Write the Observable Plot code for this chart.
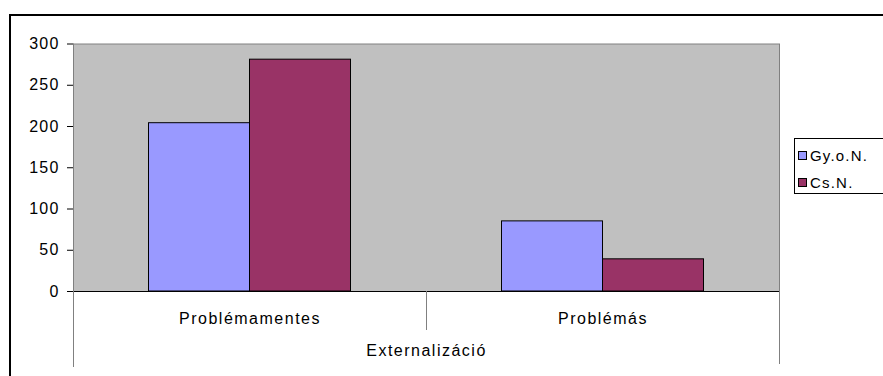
<!DOCTYPE html>
<html>
<head>
<meta charset="utf-8">
<script src="https://cdn.jsdelivr.net/npm/d3@7"></script>
<script src="https://cdn.jsdelivr.net/npm/@observablehq/plot@0.6"></script>
<style>
  html, body { margin: 0; padding: 0; background: #fff; }
  body { width: 883px; height: 376px; overflow: hidden; position: relative; font-family: "Liberation Sans", Arial, sans-serif; }
  #border { position: absolute; left: 9px; top: 14px; width: 1000px; height: 600px; border-top: 2px solid #000; border-left: 2px solid #000; }
  #chart { position: absolute; left: 0; top: 0; }
  #chart svg [aria-label="fx-axis tick label"] text { letter-spacing: 1.5px; }
  #chart svg [aria-label="fx-axis label"] text { letter-spacing: 1.5px; }
  #chart svg [aria-label="y-axis tick label"] text { letter-spacing: 1.2px; }
  #legend { position: absolute; left: 794px; top: 138px; width: 120px; height: 54px; border: 1px solid #000; background: #fff; }
  .item { position: absolute; left: 3px; font-size: 15px; letter-spacing: 1.2px; line-height: 15px; color: #000; white-space: nowrap; }
  .item .sw { display: inline-block; width: 7px; height: 7px; border: 1px solid #000; margin-right: 3px; vertical-align: 1px; }
</style>
</head>
<body>
<div id="border"></div>
<div id="chart"></div>
<div id="legend"></div>
<script>
// Categories, series and values
const categories = ["Problémamentes", "Problémás"];
const seriesNames = ["Gy.o.N.", "Cs.N."];
const gyValues = [204, 85];
const csValues = [281, 39];
const yTicks = [0, 50, 100, 150, 200, 250, 300];
const seriesColors = ["#9999FF", "#993366"];
const axisTitle = "Externalizáció";

// Long-format table for the bar mark
const rows = categories.flatMap((c, i) => [
  {category: c, series: seriesNames[0], value: gyValues[i]},
  {category: c, series: seriesNames[1], value: csValues[i]}
]);

const W = 883, H = 376;
const mTop = 43.5, mBottom = 85, mLeft = 72.5, mRight = 103;
const plotH = H - mTop - mBottom;

const chart = Plot.plot({
  width: W,
  height: H,
  marginTop: mTop,
  marginBottom: mBottom,
  marginLeft: mLeft,
  marginRight: mRight,
  style: {fontFamily: "'Liberation Sans', Arial, sans-serif", background: "transparent", color: "#000"},
  fx: {domain: categories, padding: 0},
  x: {domain: seriesNames, paddingInner: 0, paddingOuter: 0.74, axis: null},
  y: {domain: [0, 300]},
  color: {domain: seriesNames, range: seriesColors},
  marks: [
    Plot.frame({facet: "super", fill: "#C0C0C0"}),
    Plot.ruleY([300], {stroke: "#808080"}),
    Plot.barY(rows, {fx: "category", x: "series", y: "value", fill: "series", stroke: "#000", strokeWidth: 1}),
    Plot.ruleY([0], {stroke: "#000"}),
    Plot.frame({facet: "super", anchor: "left", stroke: "#808080", insetBottom: -75}),
    Plot.frame({facet: "super", anchor: "right", stroke: "#808080", insetBottom: -72}),
    Plot.frame({anchor: "left", stroke: "#808080", insetTop: plotH, insetBottom: -38}),
    Plot.axisY({ticks: yTicks, tickSize: 6, tickPadding: 8, fontSize: 16, label: null}),
    Plot.axisFx({anchor: "bottom", tickSize: 0, tickPadding: 21, fontSize: 16,
                 label: axisTitle, labelAnchor: "center", labelOffset: 64})
  ]
});
document.getElementById("chart").append(chart);

// Legend box
const legend = document.getElementById("legend");
seriesNames.forEach((name, i) => {
  const item = document.createElement("div");
  item.className = "item";
  item.style.top = (9 + i * 27) + "px";
  const sw = document.createElement("span");
  sw.className = "sw";
  sw.style.background = seriesColors[i];
  item.append(sw, document.createTextNode(name));
  legend.append(item);
});
</script>
</body>
</html>
